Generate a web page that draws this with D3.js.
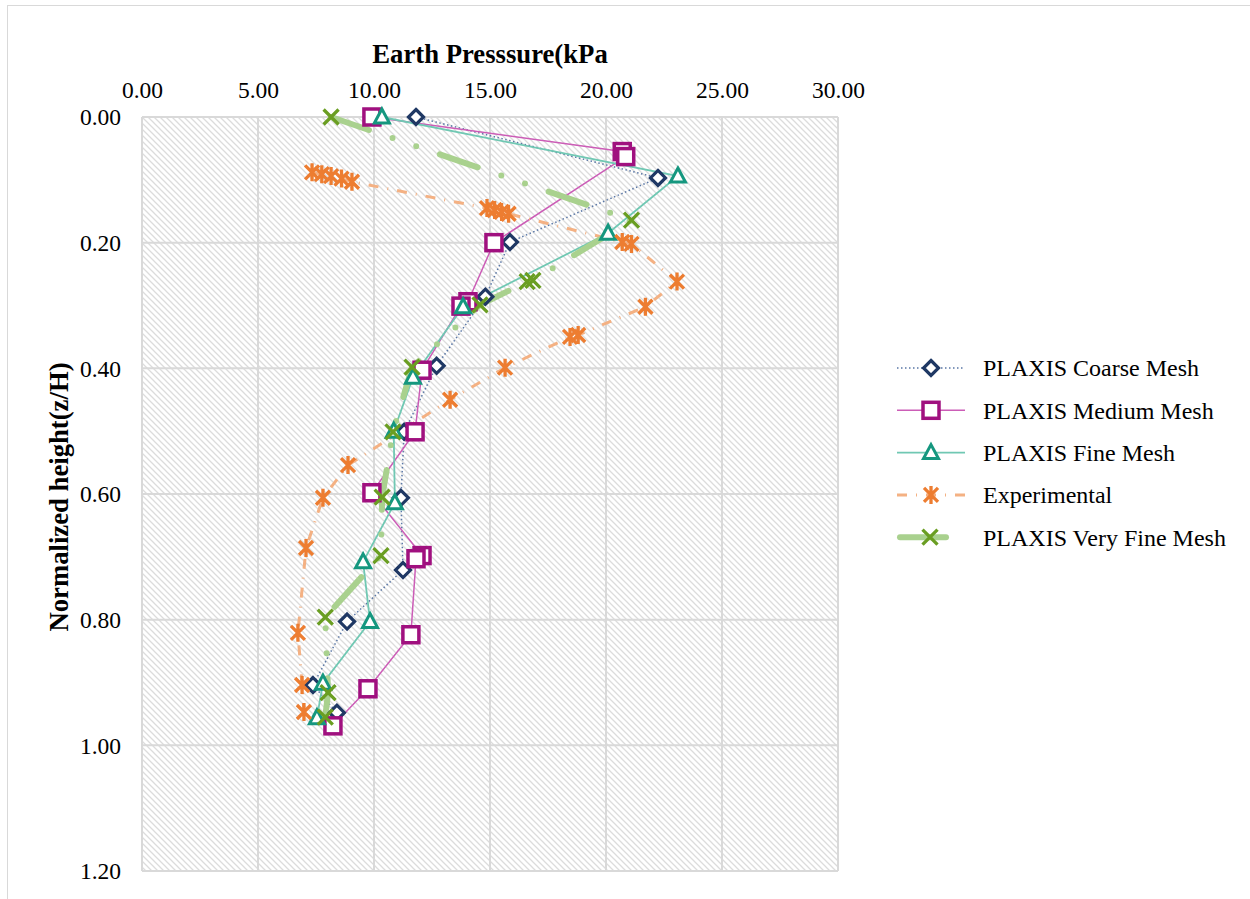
<!DOCTYPE html>
<html>
<head>
<meta charset="utf-8">
<script src="https://cdn.jsdelivr.net/npm/d3@7"></script>
<style>
  body { margin: 0; background: #fff; }
  text { font-family: "Liberation Serif", "Times New Roman", serif; fill: #000; }
</style>
</head>
<body>
<div id="chart"></div>
<script>
// tick values
var xTicks = [0, 5, 10, 15, 20, 25, 30]
var yTicks = [0, 0.2, 0.4, 0.6, 0.8, 1.0, 1.2]

// PLAXIS Coarse Mesh
var coarseX = [11.81, 22.24, 15.86, 14.8, 12.7, 11.3, 11.16, 11.25, 8.84, 7.37, 8.4]
var coarseY = [0, 0.097, 0.199, 0.286, 0.396, 0.501, 0.606, 0.721, 0.803, 0.904, 0.948]

// PLAXIS Medium Mesh
var mediumX = [9.91, 20.7, 20.85, 15.17, 14.05, 13.75, 12.07, 11.77, 9.91, 12.07, 11.81, 11.59, 9.74, 8.23]
var mediumY = [0, 0.055, 0.063, 0.2, 0.294, 0.301, 0.403, 0.501, 0.598, 0.698, 0.703, 0.824, 0.91, 0.969]

// PLAXIS Fine Mesh
var fineX = [10.34, 23.1, 20.09, 13.84, 11.68, 10.85, 10.9, 9.53, 9.83, 7.8, 7.54]
var fineY = [0, 0.094, 0.185, 0.302, 0.414, 0.5, 0.614, 0.708, 0.803, 0.901, 0.956]

// Experimental
var expX = [7.33, 7.75, 8.15, 8.6, 9.05, 14.87, 15.2, 15.5, 15.8, 20.7, 21.1, 23.06, 21.7, 18.8, 18.45, 15.65, 13.28, 8.88, 7.8, 7.07, 6.72, 6.9, 6.98]
var expY = [0.088, 0.091, 0.094, 0.098, 0.103, 0.145, 0.148, 0.151, 0.154, 0.199, 0.202, 0.262, 0.302, 0.347, 0.35, 0.399, 0.45, 0.554, 0.606, 0.686, 0.821, 0.904, 0.947]

// PLAXIS Very Fine Mesh
var vfineX = [8.15, 21.1, 16.85, 16.6, 14.57, 11.64, 10.82, 10.35, 10.3, 7.9, 8.02, 7.9]
var vfineY = [0, 0.164, 0.26, 0.262, 0.299, 0.398, 0.501, 0.605, 0.698, 0.796, 0.916, 0.955]

var W = 1250, H = 899
var margin = { top: 117, right: 412, bottom: 28, left: 142 }
var width = W - margin.left - margin.right,
    height = H - margin.top - margin.bottom

var svg = d3.select("#chart").append("svg")
    .attr("width", W).attr("height", H)

// outer chart border
svg.append("rect")
    .attr("x", 7.5).attr("y", 5.5)
    .attr("width", W).attr("height", H)
    .attr("fill", "none").attr("stroke", "#d9d9d9")

var defs = svg.append("defs")
var pat = defs.append("pattern")
    .attr("id", "hatch").attr("patternUnits", "userSpaceOnUse")
    .attr("width", 6).attr("height", 6)
pat.append("path").attr("d", "M-1,-1 L7,7 M-1,5 L1,7 M5,-1 L7,1")
    .attr("stroke", "#dcdcdc").attr("stroke-width", 1.3)

var g = svg.append("g").attr("transform", "translate(" + margin.left + "," + margin.top + ")")

var x = d3.scaleLinear().domain([0, 30]).range([0, width])
var y = d3.scaleLinear().domain([0, 1.2]).range([0, height])

g.append("rect").attr("width", width).attr("height", height).attr("fill", "url(#hatch)")

// grid
g.selectAll(".vgrid").data(xTicks).enter().append("line")
    .attr("x1", d => x(d)).attr("x2", d => x(d))
    .attr("y1", 0).attr("y2", height)
    .attr("stroke", "#d9d9d9").attr("stroke-width", 2)
g.selectAll(".hgrid").data(yTicks).enter().append("line")
    .attr("x1", 0).attr("x2", width)
    .attr("y1", d => y(d)).attr("y2", d => y(d))
    .attr("stroke", "#d9d9d9").attr("stroke-width", 2)

// axes (labels only)
var xAxis = g.append("g").call(d3.axisTop(x).tickValues(xTicks).tickFormat(d3.format(".2f")).tickSize(0).tickPadding(19))
var yAxis = g.append("g").call(d3.axisLeft(y).tickValues(yTicks).tickFormat(d3.format(".2f")).tickSize(0).tickPadding(21))
xAxis.select(".domain").remove()
yAxis.select(".domain").remove()
svg.selectAll(".tick text").attr("font-size", 23.5).attr("font-family", "Liberation Serif").attr("fill", "#000")
yAxis.selectAll(".tick text").attr("dy", "0.33em")

svg.append("text").attr("x", 490).attr("y", 63).attr("text-anchor", "middle")
    .attr("font-size", 26.7).attr("font-weight", "bold").text("Earth Presssure(kPa")
svg.append("text").attr("transform", "translate(68,497) rotate(-90)").attr("text-anchor", "middle")
    .attr("font-size", 26.7).attr("font-weight", "bold").text("Normalized height(z/H)")

var line = d3.line().x(d => x(d[0])).y(d => y(d[1]))

var series = [
  { name: "PLAXIS Coarse Mesh", xs: coarseX, ys: coarseY, lc: "#5a77a6", lw: 1.5, dash: "1.5 2.5", cap: "butt", mc: "#1f3864", m: "diamond" },
  { name: "PLAXIS Medium Mesh", xs: mediumX, ys: mediumY, lc: "#cc5db7", lw: 1.5, dash: null, cap: "butt", mc: "#a0107f", m: "square" },
  { name: "PLAXIS Fine Mesh", xs: fineX, ys: fineY, lc: "#70c8b3", lw: 1.8, dash: null, cap: "butt", mc: "#15977f", m: "triangle" },
  { name: "Experimental", xs: expX, ys: expY, lc: "#f4b183", lw: 3, dash: "10 9 1 9", cap: "butt", mc: "#ed7d31", m: "asterisk" },
  { name: "PLAXIS Very Fine Mesh", xs: vfineX, ys: vfineY, lc: "#a9d18e", lw: 6, dash: "40 25 0 25 0 25", cap: "round", mc: "#6a9e22", m: "cross" }
]

function marker(sel, type, color) {
  if (type == "diamond") {
    sel.append("path").attr("d", "M0,-7.5 L7.5,0 L0,7.5 L-7.5,0 Z")
      .attr("fill", "#fff").attr("stroke", color).attr("stroke-width", 3.2)
  } else if (type == "square") {
    sel.append("rect").attr("x", -8).attr("y", -8).attr("width", 16).attr("height", 16)
      .attr("fill", "#fff").attr("stroke", color).attr("stroke-width", 3.5)
  } else if (type == "triangle") {
    sel.append("path").attr("d", "M0,-8 L7.5,6 L-7.5,6 Z")
      .attr("fill", "#fff").attr("stroke", color).attr("stroke-width", 3).attr("stroke-linejoin", "miter")
  } else if (type == "asterisk") {
    sel.append("path").attr("d", "M-7,-7 L7,7 M-7,7 L7,-7 M0,-9 L0,9")
      .attr("fill", "none").attr("stroke", color).attr("stroke-width", 3.3)
  } else {
    sel.append("path").attr("d", "M-7.5,-7.5 L7.5,7.5 M-7.5,7.5 L7.5,-7.5")
      .attr("fill", "none").attr("stroke", color).attr("stroke-width", 3.3)
  }
}

series.forEach(s => {
  var pts = s.xs.map((v, i) => [v, s.ys[i]])
  g.append("path").datum(pts).attr("d", line)
    .attr("fill", "none").attr("stroke", s.lc).attr("stroke-width", s.lw)
    .attr("stroke-dasharray", s.dash).attr("stroke-linecap", s.cap)
})
series.forEach(s => {
  var pts = s.xs.map((v, i) => [v, s.ys[i]])
  g.selectAll(null).data(pts).enter().append("g")
    .attr("transform", d => "translate(" + x(d[0]) + "," + y(d[1]) + ")")
    .each(function () { marker(d3.select(this), s.m, s.mc) })
})

// legend
var legend = svg.append("g").attr("transform", "translate(897,368)")
series.forEach((s, i) => {
  var row = legend.append("g").attr("transform", "translate(0," + (i * 42.3) + ")")
  row.append("line").attr("x1", s.m == "cross" ? 3 : 0).attr("x2", s.m == "cross" ? 49 : 68)
    .attr("stroke", s.lc).attr("stroke-width", s.lw)
    .attr("stroke-dasharray", s.m == "cross" ? null : s.dash).attr("stroke-linecap", s.cap)
  var mk = row.append("g").attr("transform", "translate(" + (s.m == "cross" ? 33 : 34) + ",0)")
  marker(mk, s.m, s.mc)
  row.append("text").attr("x", 86).attr("y", 0).attr("dy", "0.35em")
    .attr("font-size", 24).text(s.name)
})
</script>
</body>
</html>
